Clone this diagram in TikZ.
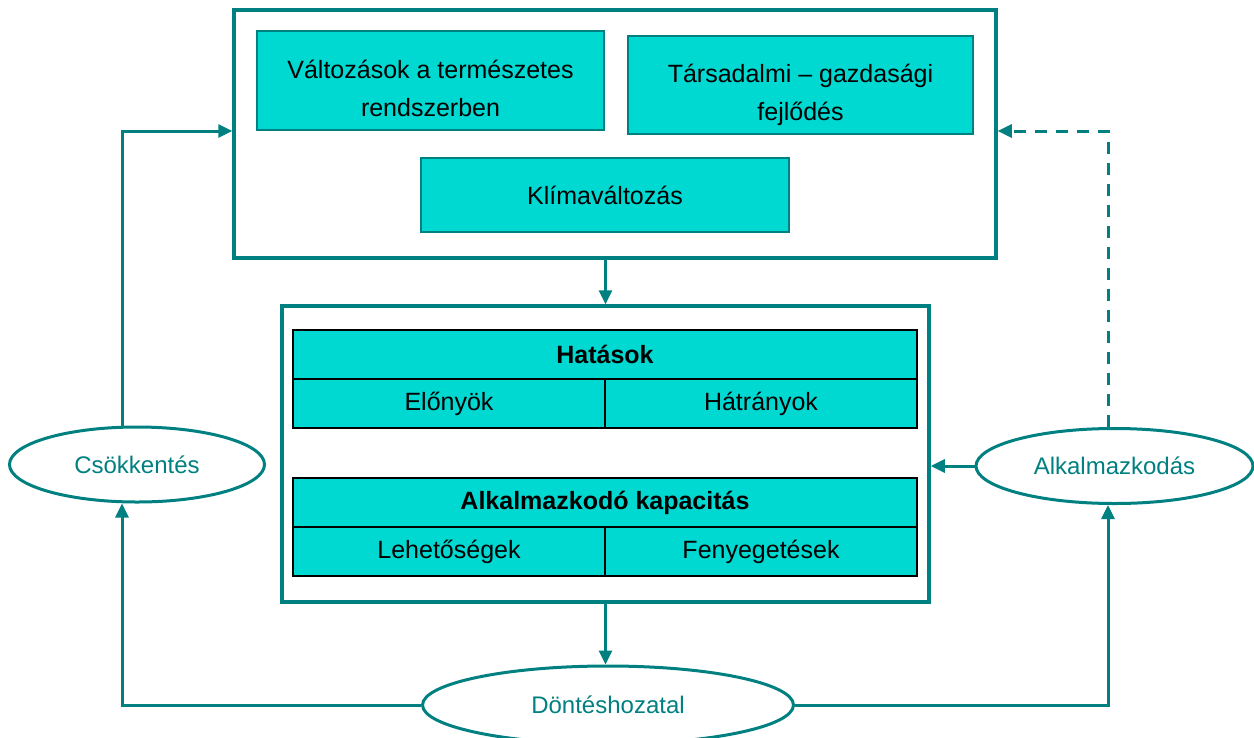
\documentclass[tikz,border=0pt]{standalone}
\usepackage{fontspec}
\setmainfont{Liberation Sans}
\usetikzlibrary{shapes.geometric, arrows.meta, positioning}
\definecolor{tealline}{HTML}{008080}
\definecolor{cyanfill}{HTML}{00D9D2}

\begin{document}
\begin{tikzpicture}[
    x=1pt, y=-1pt,
    frame/.style={rectangle, draw=tealline, line width=3.5pt, inner sep=0pt},
    box/.style={rectangle, draw=tealline, line width=1.2pt, fill=cyanfill, inner sep=0pt, align=center, font=\fontsize{25}{38}\selectfont},
    boxtext/.style={inner sep=0pt, align=center, font=\fontsize{25}{38}\selectfont},
    cell/.style={rectangle, draw=black, line width=2pt, fill=cyanfill, inner sep=0pt, minimum height=49pt, font=\fontsize{25}{30}\selectfont},
    oval/.style={ellipse, draw=tealline, line width=3pt, inner sep=0pt, text=tealline, font=\fontsize{24}{29}\selectfont},
    arrow/.style={-{Triangle[length=14pt,width=13pt]}, draw=tealline, line width=3pt}
]
\clip (0,0) rectangle (1254,737);

% Nodes
\node[frame, minimum width=762pt, minimum height=248pt] (system) at (615,134) {};
\node[box, minimum width=347pt, minimum height=99pt] (natural) at (430.5,80.5) {};
\node[boxtext] (natural-text) at ([yshift=-8pt]natural) {Változások a természetes\\rendszerben};
\node[box, minimum width=345pt, minimum height=98pt] (social) at (800.5,85) {};
\node[boxtext] (social-text) at ([yshift=-10pt]social) {Társadalmi -- gazdasági\\fejlődés};
\node[box, minimum width=368pt, minimum height=74pt] (climate) at (605,195) {Klímaváltozás};

\node[frame, minimum width=647pt, minimum height=296pt] (impacts) at (605.5,454) {};
\node[cell, minimum width=624pt] (effects) at (605,354.5) {\bfseries Hatások};
\node[cell, minimum width=312pt] (pros) at (449,403.5) {Előnyök};
\node[cell, minimum width=312pt] (cons) at (761,403.5) {Hátrányok};
\node[cell, minimum width=624pt] (capacity) at (605,502.5) {\bfseries Alkalmazkodó kapacitás};
\node[cell, minimum width=312pt] (chances) at (449,551.5) {Lehetőségek};
\node[cell, minimum width=312pt] (threats) at (761,551.5) {Fenyegetések};

\node[oval, minimum width=255pt, minimum height=75pt] (reduce) at (137,464.5) {Csökkentés};
\node[oval, minimum width=277pt, minimum height=75pt] (adapt) at (1114.5,466) {Alkalmazkodás};
\node[oval, minimum width=371pt, minimum height=78pt] (decide) at (608,705) {Döntéshozatal};

\coordinate (leftbus) at (122,131);
\coordinate (rightbus) at (1108,131);

% Arrows
\draw[arrow] (system.south -| impacts) -- (impacts.north);
\draw[arrow] (impacts.south) -- (impacts.south |- decide.north);
\draw[arrow] (reduce.north -| leftbus) -- (leftbus) -- (leftbus -| system.west);
\draw[arrow] (decide.west) -| (reduce.south -| leftbus);
\draw[arrow] (decide.east) -| (adapt.south -| rightbus);
\draw[arrow] (adapt.west) -- (adapt.west -| impacts.east);
\draw[arrow, dash pattern=on 12pt off 9pt] (adapt.north -| rightbus) -- (rightbus) -- (rightbus -| system.east);

\end{tikzpicture}
\end{document}
